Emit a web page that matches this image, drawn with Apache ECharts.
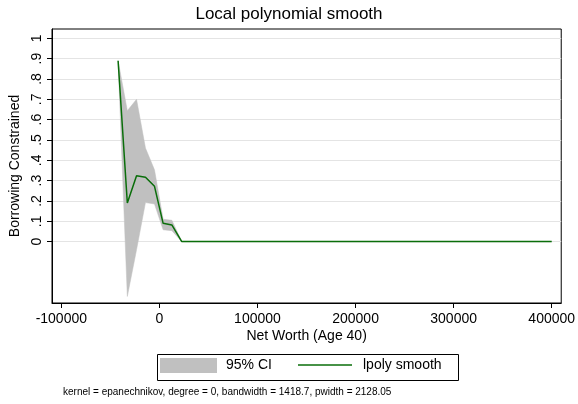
<!DOCTYPE html>
<html>
<head>
<meta charset="utf-8">
<script src="https://cdn.jsdelivr.net/npm/echarts@6/dist/echarts.min.js"></script>
<style>html,body{margin:0;padding:0;background:#fff}#c{width:578px;height:404px}</style>
</head>
<body>
<div id="c"></div>
<script>
// Data
const netWorth = [-42100, -32700, -23300, -14200, -5000, 3800, 12700, 22800, 400000];
const smooth   = [0.89, 0.19, 0.324, 0.317, 0.272, 0.09, 0.082, 0, 0];
const ciUpper  = [0.89, 0.644, 0.70, 0.46, 0.353, 0.11, 0.105, 0, 0];
const ciLower  = [0.89, -0.27, -0.04, 0.192, 0.185, 0.058, 0.054, 0, 0];
const yTicks = [0, 0.1, 0.2, 0.3, 0.4, 0.5, 0.6, 0.7, 0.8, 0.9, 1];
const xTicks = [-100000, 0, 100000, 200000, 300000, 400000];

const FONT = 'Liberation Sans, Arial, sans-serif';
const chart = echarts.init(document.getElementById('c'), null, {renderer: 'canvas'});
const bandData = netWorth.map((x, i) => [x, ciLower[i], ciUpper[i]]);
const lineData = netWorth.map((x, i) => [x, smooth[i]]);

chart.setOption({
  animation: false,
  backgroundColor: '#fff',
  title: {
    text: 'Local polynomial smooth', left: 'center', top: 1,
    textStyle: {fontFamily: FONT, fontSize: 17, fontWeight: 'normal', color: '#000'}
  },
  grid: {left: 48, right: 16, top: 29, bottom: 101, show: true, borderColor: '#000', borderWidth: 1, containLabel: false},
  xAxis: {
    type: 'value', min: -109500, max: 409700,
    name: 'Net Worth (Age 40)', nameLocation: 'middle', nameGap: 26, nameMoveOverlap: false,
    nameTextStyle: {fontFamily: FONT, fontSize: 14, color: '#000'},
    axisLine: {show: true, onZero: false, lineStyle: {color: '#000'}},
    axisTick: {show: true, length: 5, customValues: xTicks, lineStyle: {color: '#000'}},
    axisLabel: {customValues: xTicks, fontFamily: FONT, fontSize: 14, color: '#000', margin: 9, formatter: v => String(v)},
    splitLine: {show: false}
  },
  yAxis: {
    type: 'value', min: -0.302, max: 1.046,
    name: 'Borrowing Constrained', nameLocation: 'middle', nameGap: 30, nameMoveOverlap: false,
    nameTextStyle: {fontFamily: FONT, fontSize: 14, color: '#000'},
    axisLine: {show: true, onZero: false, lineStyle: {color: '#000'}},
    axisTick: {show: true, length: 5, customValues: yTicks, lineStyle: {color: '#000'}},
    axisLabel: {customValues: yTicks, rotate: 90, fontFamily: FONT, fontSize: 14, color: '#000', margin: 8,
      formatter: v => { const r = Math.round(v * 10); return r === 0 ? '0' : (r === 10 ? '1' : '.' + r); }},
    splitLine: {show: true, lineStyle: {color: '#e4e4e4', width: 1}}
  },
  legend: [
    {
      left: 160, top: 358, padding: 0, itemWidth: 57, itemHeight: 15,
      textStyle: {fontFamily: FONT, fontSize: 14, color: '#000', padding: [0, 0, 0, 4]},
      data: [{name: '95% CI', icon: 'rect', itemStyle: {color: '#c0c0c0'}}]
    },
    {
      left: 298, top: 358, padding: 0, itemWidth: 54, itemHeight: 1.5,
      textStyle: {fontFamily: FONT, fontSize: 14, color: '#000', padding: [0, 0, 0, 6]},
      data: [{name: 'lpoly smooth', icon: 'rect', itemStyle: {color: '#0a6e0a'}}]
    }
  ],
  graphic: [
    {type: 'rect', left: 155, top: 352, shape: {width: 301, height: 26},
     style: {fill: 'none', stroke: '#000', lineWidth: 1}, silent: true},
    {type: 'text', left: 63, top: 387,
     style: {text: 'kernel = epanechnikov, degree = 0, bandwidth = 1418.7, pwidth = 2128.05',
      font: '10px Liberation Sans, Arial, sans-serif', fill: '#000'}}
  ],
  series: [
    {name: '95% CI', type: 'custom', data: bandData, color: '#c0c0c0',
     encode: {x: 0, y: [1, 2]}, silent: true, z: 1,
     renderItem: function (params, api) {
       if (params.dataIndex !== 0) return null;
       const pts = [];
       for (let i = 0; i < netWorth.length; i++) pts.push(api.coord([netWorth[i], ciUpper[i]]));
       for (let i = netWorth.length - 1; i >= 0; i--) pts.push(api.coord([netWorth[i], ciLower[i]]));
       return {type: 'polygon', shape: {points: pts}, style: {fill: '#c0c0c0', stroke: '#c0c0c0', lineWidth: 0.5}};
     }},
    {name: 'lpoly smooth', type: 'line', data: lineData, symbol: 'none', showSymbol: false, color: '#0a6e0a',
     lineStyle: {color: '#0a6e0a', width: 1.5}, z: 3}
  ]
});
</script>
</body>
</html>
